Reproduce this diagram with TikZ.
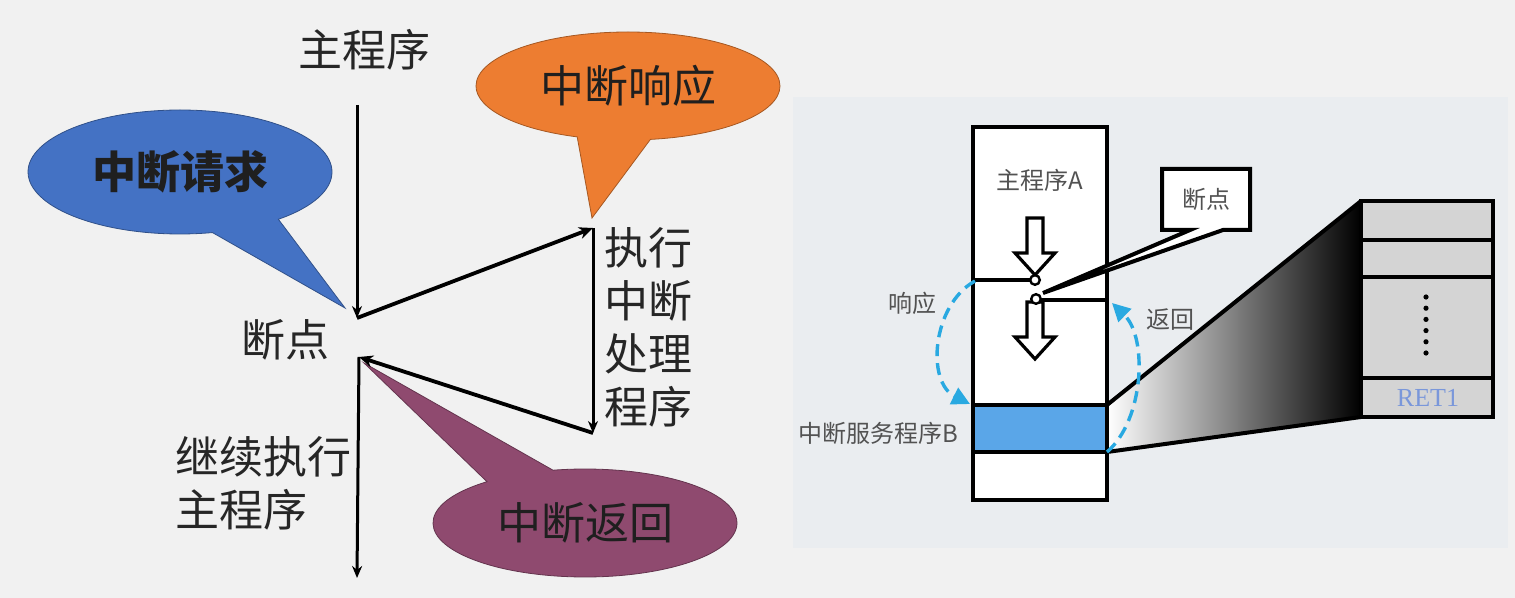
\documentclass[tikz,border=0pt]{standalone}
\usepackage{fontspec}
\setmainfont{Noto Sans CJK SC}
\newfontfamily\retfont{Liberation Serif}
\usetikzlibrary{positioning,shapes.callouts,arrows.meta}

\definecolor{pagebg}{HTML}{F1F1F1}
\definecolor{panelbg}{HTML}{EAEDF0}
\definecolor{reqblue}{HTML}{4472C4}
\definecolor{ackorange}{HTML}{ED7D31}
\definecolor{retpurple}{HTML}{8F4A6F}
\definecolor{bandblue}{HTML}{5AA6E8}
\definecolor{dashcyan}{HTML}{29A9E1}
\definecolor{stackgray}{HTML}{D4D4D4}
\definecolor{rettext}{HTML}{7A97DA}

\begin{document}
\begin{tikzpicture} [x=0.5pt,y=-0.5pt,
	bubble/.style={
		ellipse callout,thin,inner sep=0pt,
		callout pointer arc=28,minimum width=152pt,minimum height=54pt,
		font=\fontsize{22}{26.5}\selectfont,text=black!88},
	lbl/.style={
		font=\fontsize{22}{26.5}\selectfont,text=black!85},
	small lbl/.style={
		font=\fontsize{12}{14}\selectfont,text=black!68},
	flow/.style={
		-{Stealth[length=7pt,width=6pt]},line width=1.9pt},
	trunk/.style={
		-{Stealth[length=6pt,width=5pt]},line width=1.5pt},
	box/.style={
		draw=black,line width=2pt},
	hollow/.style={
		draw=black,line width=1.6pt,fill=white,line join=miter},
	jump/.style={
		draw=dashcyan,line width=1.7pt,dash pattern=on 6pt off 3.5pt,
		-{Triangle[length=9pt,width=9pt]}}]
\useasboundingbox (0,0) rectangle (1515,598);
\fill[pagebg] (0,0) rectangle (1515,598);

\coordinate (trunk top) 	at (357,105);
\coordinate (bp in) 		at (357,318);
\coordinate (bp out) 		at (359,357);
\coordinate (trunk end) 	at (357,578);
\coordinate (isr top) 		at (593,228);
\coordinate (isr end) 		at (593,433);
\coordinate (req tip) 		at (345,308);
\coordinate (ack tip) 		at (592,218);
\coordinate (ret tip) 		at (364,363);

\node[bubble,fill=reqblue,draw=reqblue!70!black,minimum height=62pt,
	font=\fontsize{22}{26.5}\selectfont\bfseries,
	callout absolute pointer={(req tip)}] 		(req) 	at (180,172) {中断请求};
\node[bubble,fill=ackorange,draw=ackorange!70!black,
	callout absolute pointer={(ack tip)}] 		(ack) 	at (628,86) {中断响应};
\node[bubble,fill=retpurple,draw=retpurple!70!black,
	callout absolute pointer={(ret tip)}] 		(ret) 	at (585,523) {中断返回};

\node[lbl] 		(main) 		at (364,50) {主程序};
\node[lbl] 		(bp) 		at (285,340) {断点};
\node[lbl,align=left] 	(isr text) 	at (648,327) {执行\\中断\\处理\\程序};
\node[lbl,align=left,anchor=west] (resume) at (168,483) {继续执行\\主程序};

\draw[trunk] (trunk top) -- (bp in);
\draw[flow] (bp in) -- (isr top);
\draw[trunk] (isr top) -- (isr end);
\draw[flow] (isr end) -- (bp out);
\draw[trunk] (bp out) -- (trunk end);

\fill[panelbg] (793,97) rectangle (1508,548);
\shade[left color=white,right color=black] (1107,405) -- (1361,201) -- (1361,417) -- (1107,452) -- cycle;
\draw[box] (1107,405) -- (1361,201);
\draw[box] (1107,452) -- (1361,417);

\draw[box,fill=white] (973,127) rectangle (1107,500);
\draw[box,fill=bandblue] (973,405) rectangle (1107,452);
\draw[box] (973,280) -- (1031,280);
\draw[box] (1040,300) -- (1107,300);
\foreach \t in {218,302}
	\draw[hollow] (1027,\t) -- (1043,\t) -- (1043,\t+35) -- (1055,\t+35) -- (1035,\t+57) -- (1015,\t+35) -- (1027,\t+35) -- cycle;
\draw[line width=1.2pt,fill=white] (1035,280) circle (2.4pt);
\draw[line width=1.2pt,fill=white] (1036,299) circle (2.4pt);

\draw[box,fill=white,line join=miter] (1162,169) -- (1250,169) -- (1250,230) -- (1223,230) -- (1043,293) -- (1190,230) -- (1162,230) -- cycle;
\node[small lbl] 	(bp box) 	at (1206,199) {断点};
\node[small lbl] 	(prog a) 	at (1040,180) {主程序A};
\node[small lbl] 	(ack lbl) 	at (912,303) {响应};
\node[small lbl] 	(ret lbl) 	at (1170,320) {返回};
\node[small lbl] 	(isr b) 	at (878,433) {中断服务程序B};

\coordinate (ack from) 	at (975,281);
\coordinate (ack to) 	at (970,404);
\coordinate (ret from) 	at (1107,452);
\coordinate (ret to) 	at (1112,303);
\draw[jump] (ack from) .. controls (932,305) and (926,382) .. (ack to);
\draw[jump] (ret from) .. controls (1144,420) and (1148,338) .. (ret to);

\draw[box,fill=stackgray] (1361,201) rectangle (1493,417);
\foreach \y in {240,277,378}
	\draw[box] (1361,\y) -- (1493,\y);
\foreach \d in {0,...,5}
	\fill (1426,297+\d*11.2) circle (1.3pt);
\node[font=\retfont\fontsize{13}{14}\selectfont,text=rettext] (ret1) at (1428,398) {RET1};
\end{tikzpicture}
\end{document}
